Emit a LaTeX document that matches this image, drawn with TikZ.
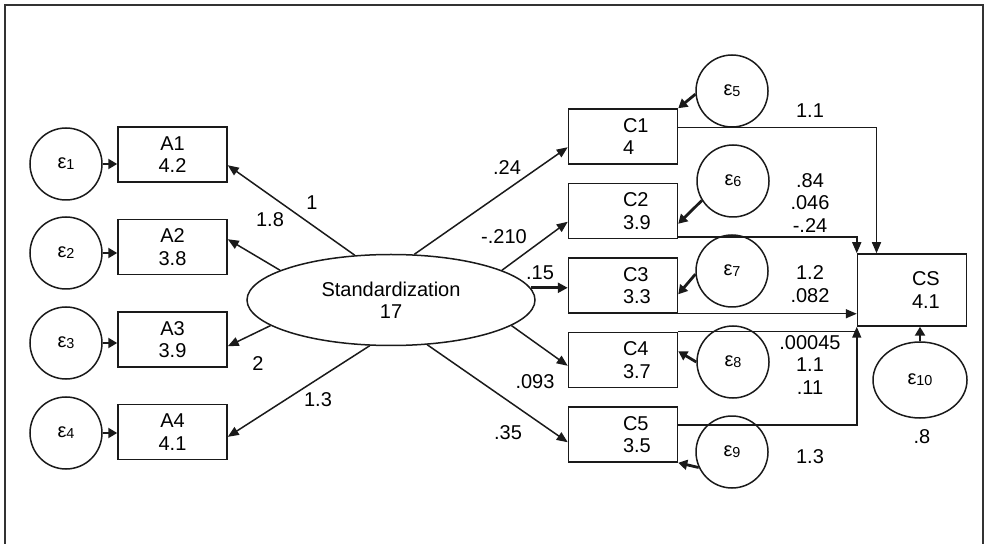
\documentclass[tikz,border=0pt]{standalone}
\usepackage{fontspec}
\setmainfont{Liberation Sans}
\usetikzlibrary{arrows.meta, positioning, shapes.geometric, calc}
\definecolor{CLine}{HTML}{1A1A1A}
\definecolor{CFrame}{HTML}{333333}
\newcommand{\semfont}{\fontsize{10}{11.2}\selectfont}
\newcommand{\errtxt}[1]{ε\raisebox{-0.6pt}{\fontsize{7.2}{7.2}\selectfont #1}}
\tikzset{
    obsbox/.style={
        rectangle,
        draw=CLine,
        fill=white,
        minimum width=54.5pt,
        minimum height=27.5pt,
        align=center,
        font=\semfont,
        line width=0.75pt
    },
    endobox/.style={
        obsbox,
        inner xsep=0pt,
        text width=54pt,
        align=left,
        execute at begin node=\leftskip27pt\relax
    },
    latent/.style={
        ellipse,
        draw=CLine,
        fill=white,
        minimum width=144pt,
        minimum height=45.5pt,
        inner sep=0pt,
        align=center,
        font=\semfont,
        line width=0.75pt
    },
    errcirc/.style={
        circle,
        draw=CLine,
        minimum size=36pt,
        inner sep=0pt,
        font=\semfont,
        line width=0.75pt
    },
    errell/.style={
        ellipse,
        draw=CLine,
        minimum width=47pt,
        minimum height=38pt,
        inner sep=0pt,
        font=\semfont,
        line width=0.75pt
    },
    pathline/.style={
        draw=CLine,
        line width=0.75pt
    },
    patharrow/.style={
        pathline,
        -{Triangle[length=5.5pt, width=4.5pt]}
    },
    thickarrow/.style={
        draw=CLine,
        line width=1.5pt,
        -{Triangle[length=5pt, width=5pt]}
    },
    errarrow/.style={
        draw=CLine,
        line width=1.4pt,
        -{Triangle[length=4.5pt, width=5pt]}
    },
    coef/.style={
        font=\semfont,
        inner sep=1pt,
        align=center
    }
}

\begin{document}
\begin{tikzpicture}[x=0.5pt, y=-0.5pt]
    \useasboundingbox (0,0) rectangle (988,544);
    \draw[CFrame, line width=1pt] (5,544) -- (5,5) -- (983,5) -- (983,544);

    % Nodes
    \node[latent] (std) at (391,300) {Standardization\\17};

    \node[obsbox] (A1) at (172.5,154.5) {A1\\4.2};
    \node[obsbox, below=18pt of A1] (A2) {A2\\3.8};
    \node[obsbox, below=18pt of A2] (A3) {A3\\3.9};
    \node[obsbox, below=18pt of A3] (A4) {A4\\4.1};

    \node[errcirc] (e1) at (66,164) {\errtxt{1}};
    \node[errcirc] (e2) at (66,253) {\errtxt{2}};
    \node[errcirc] (e3) at (66,343) {\errtxt{3}};
    \node[errcirc] (e4) at (66,433) {\errtxt{4}};

    \node[endobox] (C1) at (623,136.5) {C1\\4};
    \node[endobox, below=9pt of C1] (C2) {C2\\3.9};
    \node[endobox, below=9pt of C2] (C3) {C3\\3.3};
    \node[endobox, below=9pt of C3] (C4) {C4\\3.7};
    \node[endobox, below=9pt of C4] (C5) {C5\\3.5};

    \node[errcirc] (e5) at (732,91) {\errtxt{5}};
    \node[errcirc] (e6) at (733,181) {\errtxt{6}};
    \node[errcirc] (e7) at (732,271) {\errtxt{7}};
    \node[errcirc] (e8) at (733,362) {\errtxt{8}};
    \node[errcirc] (e9) at (732,452) {\errtxt{9}};

    \node[endobox, minimum height=36pt] (CS) at (912,290) {CS\\4.1};
    \node[errell] (e10) at (920,380) {\errtxt{10}};

    % Paths
    \draw[errarrow] (e1.east) -- (e1.east -| A1.west);
    \draw[errarrow] (e2.east) -- (e2.east -| A2.west);
    \draw[errarrow] (e3.east) -- (e3.east -| A3.west);
    \draw[errarrow] (e4.east) -- (e4.east -| A4.west);

    \draw[patharrow] (std.129) -- (A1.-11);
    \draw[patharrow] (std.165) -- (A2.8);
    \draw[patharrow] (std.192) -- (A3.-7);
    \draw[patharrow] (std.245) -- (A4.-5);

    \draw[patharrow] (std.63) -- (C1.191);
    \draw[patharrow] (std.15) -- (C2.191);
    \draw[thickarrow] (std.5) -- (std.5 -| C3.west);
    \draw[patharrow] (std.348) -- (C4.186);
    \draw[patharrow] (std.309) -- (C5.188);

    \draw[errarrow] (e5.185) -- (C1.north east);
    \draw[errarrow] (e6.212) -- (C2.-13);
    \draw[errarrow] (e7.185) -- (C3.-9);
    \draw[errarrow] (e8.180) -- (C4.9);
    \draw[errarrow] (e9.205) -- (C5.south east);

    \draw[patharrow] (C1.9) -| (CS.134);
    \draw[patharrow] (C2.-25) -| (CS.north west);
    \draw[patharrow] (C3.south east) -- (C3.south east -| CS.west);
    \draw[pathline] (C4.north east) -- (C4.north east -| CS.west);
    \draw[patharrow] (C5.10) -| (CS.south west);
    \draw[errarrow] (e10.north) -- (e10.north |- CS.south);

    % Labels
    \node[coef] (wA1) at (312,203) {1};
    \node[coef] (wA2) at (270,220) {1.8};
    \node[coef] (wA3) at (258,364) {2};
    \node[coef] (wA4) at (318,400) {1.3};
    \node[coef] (wC1) at (507,168) {.24};
    \node[coef] (wC2) at (504,237) {-.210};
    \node[coef] (wC3) at (540,273) {.15};
    \node[coef] (wC4) at (535,382) {.093};
    \node[coef] (wC5) at (508,433) {.35};
    \node[coef] (bC1) at (810,111) {1.1};
    \node[coef] (bC2) at (810,203) {.84\\.046\\-.24};
    \node[coef] (bC3) at (810,284) {1.2\\.082};
    \node[coef] (bC4) at (810,365) {.00045\\1.1\\.11};
    \node[coef] (bC5) at (810,457) {1.3};
    \node[coef] (vCS) at (922,437) {.8};

\end{tikzpicture}
\end{document}
